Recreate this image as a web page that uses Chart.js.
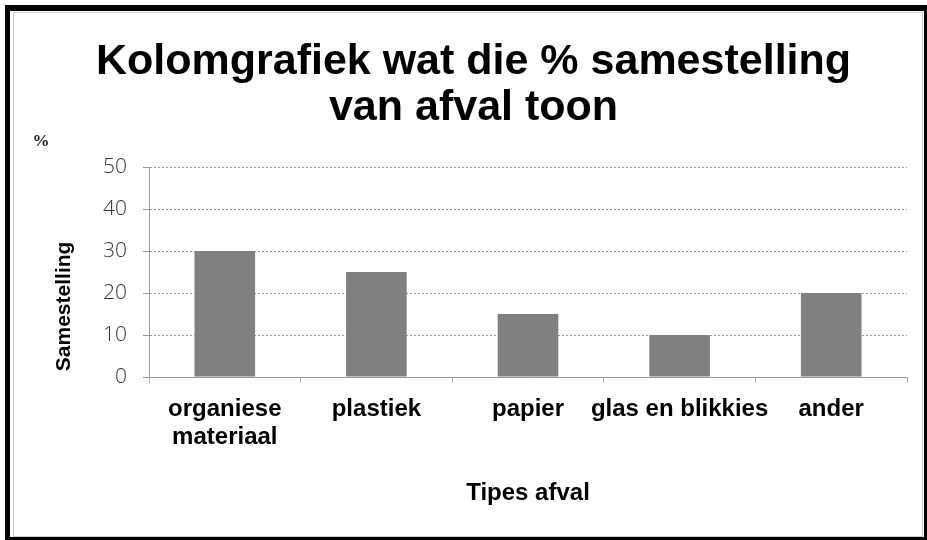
<!DOCTYPE html>
<html>
<head>
<meta charset="utf-8">
<script src="https://cdn.jsdelivr.net/npm/chart.js@4.4.0/dist/chart.umd.min.js"></script>
<style>
  html, body { margin: 0; padding: 0; background: #ffffff; }
  #wrap { position: relative; width: 927px; height: 540px; }
</style>
</head>
<body>
<div id="wrap"><canvas id="c" width="927" height="540"></canvas></div>
<script>
// ---- data ----
const categories = [['organiese', 'materiaal'], 'plastiek', 'papier', 'glas en blikkies', 'ander'];
const values = [30, 25, 15, 10, 20];
const yTickValues = [0, 10, 20, 30, 40, 50];
const titleLines = ['Kolomgrafiek wat die % samestelling', 'van afval toon'];
const yAxisTitle = 'Samestelling';
const xAxisTitle = 'Tipes afval';
const unitLabel = '%';

const SANS = "'Liberation Sans', Arial, sans-serif";

const framePlugin = {
  id: 'frame',
  beforeDraw(chart) {
    const ctx = chart.ctx;
    ctx.save();
    ctx.fillStyle = '#ffffff';
    ctx.fillRect(0, 0, chart.width, chart.height);
    ctx.restore();
  },
  afterDraw(chart) {
    const ctx = chart.ctx;
    ctx.save();
    // inner dotted frame
    ctx.strokeStyle = '#9a9a9a';
    ctx.lineWidth = 1;
    ctx.setLineDash([1, 1]);
    ctx.strokeRect(13.5, 12.5, 909, 524);
    ctx.setLineDash([]);
    // outer dark frame
    ctx.fillStyle = '#000000';
    ctx.fillRect(5, 5, 922, 6);
    ctx.fillRect(5, 5, 5, 535);
    ctx.fillRect(5, 537, 922, 3);
    ctx.fillRect(924, 5, 3, 535);
    // unit label
    ctx.fillStyle = '#222222';
    ctx.font = "bold 17px 'Liberation Serif', serif";
    ctx.textAlign = 'center';
    ctx.textBaseline = 'middle';
    ctx.fillText(unitLabel, 41, 142);
    ctx.restore();
  }
};

new Chart(document.getElementById('c'), {
  type: 'bar',
  data: {
    labels: categories,
    datasets: [{
      data: values,
      backgroundColor: '#808080',
      borderWidth: 0,
      categoryPercentage: 1.0,
      barPercentage: 0.4
    }]
  },
  options: {
    responsive: false,
    animation: false,
    devicePixelRatio: 1,
    layout: { padding: { left: 40, right: 20, top: 14, bottom: 20 } },
    plugins: {
      legend: { display: false },
      tooltip: { enabled: false },
      title: {
        display: true,
        text: titleLines,
        color: '#000000',
        font: { family: SANS, size: 43, weight: 'bold', lineHeight: 1.07 },
        padding: { top: 25, bottom: 36 }
      }
    },
    scales: {
      x: {
        offset: true,
        grid: {
          display: true,
          offset: true,
          drawOnChartArea: false,
          drawTicks: true,
          tickLength: 6,
          color: '#aaaaaa'
        },
        border: { display: true, color: '#999999', dash: [2, 2] },
        ticks: {
          color: '#000000',
          padding: 13,
          maxRotation: 0,
          autoSkip: false,
          font: { family: SANS, size: 24, weight: 'bold', lineHeight: 1.15 }
        },
        title: {
          display: true,
          text: xAxisTitle,
          color: '#000000',
          font: { family: SANS, size: 24, weight: 'bold', lineHeight: 1.2 },
          padding: { top: 0, bottom: 12.6 }
        },
        afterFit(scale) { scale.height = 143; }
      },
      y: {
        min: 0,
        max: 50,
        afterBuildTicks(scale) { scale.ticks = yTickValues.map(v => ({ value: v })); },
        grid: {
          color: '#999999',
          lineWidth: 1,
          drawTicks: true,
          tickLength: 6,
          tickColor: '#999999'
        },
        border: { display: true, color: '#999999', dash: [2, 2] },
        ticks: {
          color: '#333333',
          padding: 16,
          font: { family: "'Open Sans', 'DejaVu Sans', sans-serif", size: 21, weight: '300' }
        },
        title: {
          display: true,
          text: ' ' + yAxisTitle,
          align: 'start',
          color: '#000000',
          font: { family: SANS, size: 21, weight: 'bold', lineHeight: 1.2 },
          padding: { top: 11.4, bottom: 0 }
        },
        afterFit(scale) { scale.width = 109; }
      }
    }
  },
  plugins: [framePlugin]
});
</script>
</body>
</html>
